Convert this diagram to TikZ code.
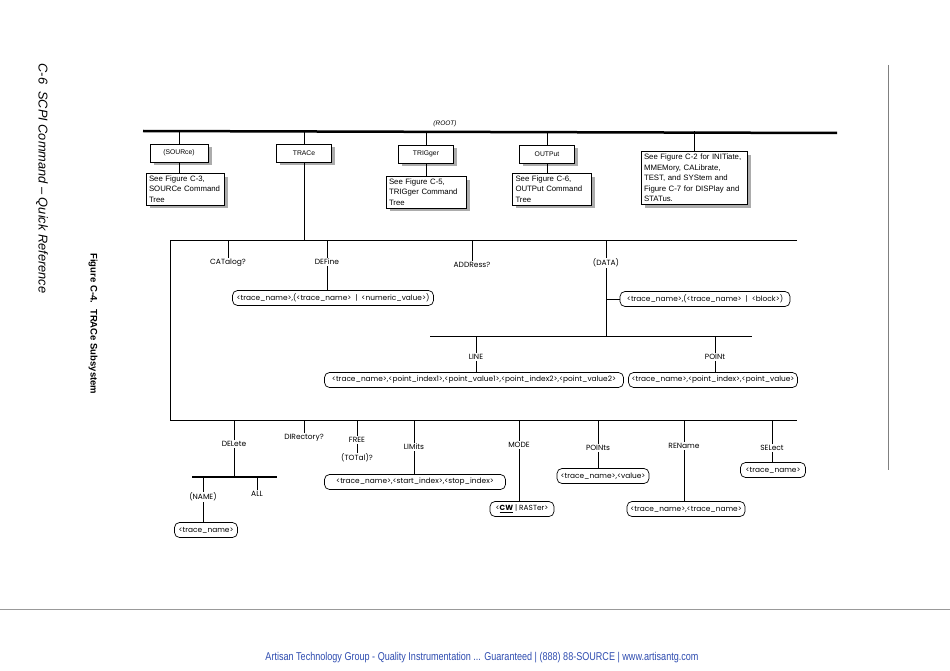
\documentclass[tikz,border=0pt]{standalone}
\usepackage{fontspec}
\setmainfont{Liberation Sans}
\newfontfamily\gotico{Poppins}
\newfontfamily\piede[FakeStretch=0.8]{Liberation Sans}
\usetikzlibrary{shadows}
\definecolor{bluartisan}{RGB}{45,75,175}
\tikzset{
  etichetta/.style={font=\gotico\fontsize{7.5}{8}\selectfont, inner sep=1pt},
  capsula/.style={draw, rounded corners=5pt, line width=0.7pt, inner xsep=3pt, inner ysep=1pt, minimum height=15pt, font=\gotico\fontsize{7.4}{8}\selectfont},
  scatola/.style={draw, fill=white, line width=0.6pt, minimum height=18pt, drop shadow={shadow xshift=3.5pt, shadow yshift=-3.5pt, fill=gray!65, opacity=1}, font=\fontsize{6.8}{7.5}\selectfont},
  vedi/.style={scatola, align=left, text width=#1, inner xsep=3pt, inner ysep=2.5pt, font=\fontsize{7.8}{10.5}\selectfont},
  barra/.style={line width=0.8pt},
}
\begin{document}
\begin{tikzpicture}[x=1pt, y=-1pt]
    \useasboundingbox (0,0) rectangle (950,671);
    % Radice
    \coordinate (radice) at (143,131);
    \coordinate (radiceFine) at (837,133);
    \draw[line width=2.5pt] (radice) -- (radiceFine);
    \node[font=\itshape\fontsize{6.5}{7}\selectfont, inner sep=1pt] (root) at (445,124) {(ROOT)};
    % Scatole in alto
    \node[scatola, minimum width=58pt] (sour) at (179,153) {(SOURce)};
    \node[scatola, minimum width=55pt] (trace) at (304,153) {TRACe};
    \node[scatola, minimum width=55pt] (trig) at (426,154) {TRIGger};
    \node[scatola, minimum width=55pt] (outp) at (547,154) {OUTPut};
    \node[vedi=72pt] (sourVedi) at (185,189) {See Figure C-3,\\SOURCe Command\\Tree};
    \node[vedi=74pt] (trigVedi) at (426,192) {See Figure C-5,\\TRIGger Command\\Tree};
    \node[vedi=73pt] (outpVedi) at (552,189) {See Figure C-6,\\OUTPut Command\\Tree};
    \node[vedi=100pt] (altri) at (694,178) {See Figure C-2 for INITiate,\\MMEMory, CALibrate,\\TEST, and SYStem and\\Figure C-7 for DISPlay and\\STATus.};
    \foreach \n in {sour, trace, trig, outp, altri}
        \draw (\n.north) -- (\n.north |- radice);
    \foreach \n/\m in {sour/sourVedi, trig/trigVedi, outp/outpVedi}
        \draw (\n.south) -- (\n.south |- \m.north);
    % Livello TRACe
    \coordinate (medio) at (170,240);
    \coordinate (medioFine) at (797,240);
    \coordinate (basso) at (170,420);
    \coordinate (bassoFine) at (797,420);
    \draw[barra] (medioFine) -- (medio) -- (basso) -- (bassoFine);
    \draw[barra] (trace.south) -- (trace.south |- medio);
    \node[etichetta] (cat) at (228,263) {CATalog?};
    \node[etichetta] (def) at (327,262) {DEFine};
    \node[etichetta] (addr) at (472,265) {ADDRess?};
    \node[etichetta] (data) at (606,263) {(DATA)};
    \foreach \n in {cat, def, addr, data}
        \draw[barra] (\n.north) -- (\n.north |- medio);
    \node[capsula, minimum width=201pt] (defBox) at (333,298) {<trace\_name>,(<trace\_name> \ | \ <numeric\_value>)};
    \draw[barra] (def.south) -- (def.south |- defBox.north);
    \node[capsula, minimum width=170pt] (dataBox) at (705,299) {<trace\_name>,(<trace\_name> \ | \ <block>)};
    % LINE e POINt
    \coordinate (dataBarra) at (430,336);
    \coordinate (dataBarraFine) at (752,336);
    \draw[barra] (dataBarra) -- (dataBarraFine);
    \draw[barra] (data.south) -- (data.south |- dataBarra);
    \draw[barra] (data.south |- dataBox.west) -- (dataBox.west);
    \node[etichetta] (line) at (476,357) {LINE};
    \node[etichetta] (point) at (715,357) {POINt};
    \node[capsula, minimum width=299pt] (lineBox) at (474,380) {<trace\_name>,<point\_index1>,<point\_value1>,<point\_index2>,<point\_value2>};
    \node[capsula, minimum width=168pt] (pointBox) at (713,380) {<trace\_name>,<point\_index>,<point\_value>};
    \foreach \n/\m in {line/lineBox, point/pointBox} {
        \draw[barra] (\n.north) -- (\n.north |- dataBarra);
        \draw[barra] (\n.south) -- (\n.south |- \m.north);
    }
    % Livello in basso
    \node[etichetta] (del) at (234,444) {DELete};
    \node[etichetta] (dir) at (304,438) {DIRectory?};
    \node[etichetta] (free) at (357,440) {FREE};
    \node[etichetta] (totale) at (357,458) {(TOTal)?};
    \node[etichetta] (lim) at (414,447) {LIMits};
    \node[etichetta] (mode) at (519,445) {MODE};
    \node[etichetta] (points) at (598,448) {POINts};
    \node[etichetta] (ren) at (684,446) {REName};
    \node[etichetta] (sel) at (772,448) {SELect};
    \foreach \n in {del, dir, free, lim, mode, points, ren, sel}
        \draw[barra] (\n.north) -- (\n.north |- basso);
    \draw (free.south) -- (totale.north);
    \node[capsula, minimum width=181pt] (limBox) at (415,482) {<trace\_name>,<start\_index>,<stop\_index>};
    \node[capsula, minimum width=64pt] (modeBox) at (522,509) {<\underline{\textbf{CW}} | RASTer>};
    \node[capsula, minimum width=92pt] (pointsBox) at (603,476) {<trace\_name>,<value>};
    \node[capsula, minimum width=118pt] (renBox) at (686,509) {<trace\_name>,<trace\_name>};
    \node[capsula, minimum width=65pt] (selBox) at (773,470) {<trace\_name>};
    \foreach \n/\m in {lim/limBox, mode/modeBox, points/pointsBox, ren/renBox, sel/selBox}
        \draw[barra] (\n.south) -- (\n.south |- \m.north);
    % DELete
    \coordinate (delBarra) at (192,477);
    \coordinate (delBarraFine) at (277,477);
    \draw[line width=1.2pt] (delBarra) -- (delBarraFine);
    \draw[barra] (del.south) -- (del.south |- delBarra);
    \node[etichetta] (name) at (203,497) {(NAME)};
    \node[etichetta] (all) at (257,494) {ALL};
    \node[capsula, minimum width=63pt] (nameBox) at (206,530) {<trace\_name>};
    \foreach \n in {name, all}
        \draw[barra] (\n.north) -- (\n.north |- delBarra);
    \draw[barra] (name.south) -- (name.south |- nameBox.north);
    % Testi a margine
    \node[rotate=-90, font=\itshape\fontsize{12.8}{14}\selectfont, anchor=west] (testata) at (42,60) {C-6 \ SCPI Command -- Quick Reference};
    \node[rotate=-90, font=\bfseries\fontsize{9.5}{12}\selectfont, anchor=west] (titolo) at (93,250) {Figure C-4. \ TRACe Subsystem};
    \coordinate (margine) at (888,65);
    \coordinate (margineFine) at (888,470);
    \draw[gray, line width=0.7pt] (margine) -- (margineFine);
    \coordinate (piega) at (0,609);
    \coordinate (piegaFine) at (950,609);
    \draw[gray!80, line width=0.7pt] (piega) -- (piegaFine);
    \node[text=bluartisan, inner sep=0pt] (artisan) at (482,658) {\resizebox{433pt}{!}{\piede Artisan Technology Group - Quality Instrumentation ... Guaranteed | (888) 88-SOURCE | www.artisantg.com}};
\end{tikzpicture}
\end{document}
